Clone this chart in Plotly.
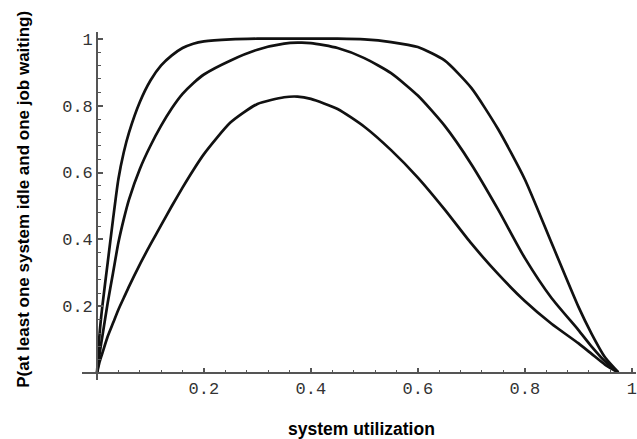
import plotly.graph_objects as go

# system utilization (x)
rho = [0.0, 0.005, 0.01, 0.02, 0.03, 0.04, 0.05, 0.06, 0.08, 0.10, 0.12, 0.14,
       0.16, 0.18, 0.20, 0.25, 0.30, 0.35, 0.375, 0.40, 0.45, 0.50, 0.55, 0.60,
       0.65, 0.70, 0.75, 0.80, 0.85, 0.90, 0.925, 0.95, 0.975]

# P(at least one system idle and one job waiting), three curves
p_top = [0.0, 0.12, 0.20, 0.33, 0.46, 0.58, 0.66, 0.72, 0.81, 0.875, 0.92, 0.95,
         0.972, 0.985, 0.992, 0.998, 1.0, 1.0, 1.0, 1.0, 1.0, 0.998, 0.99, 0.975,
         0.935, 0.853, 0.73, 0.58, 0.39, 0.20, 0.118, 0.048, 0.003]
p_mid = [0.0, 0.06, 0.11, 0.21, 0.30, 0.39, 0.46, 0.52, 0.61, 0.68, 0.74, 0.792,
         0.835, 0.867, 0.893, 0.935, 0.967, 0.985, 0.988, 0.987, 0.972, 0.942, 0.897, 0.83,
         0.74, 0.625, 0.49, 0.345, 0.225, 0.13, 0.08, 0.036, 0.003]
p_low = [0.0, 0.035, 0.06, 0.11, 0.15, 0.19, 0.225, 0.26, 0.325, 0.385, 0.443, 0.50,
         0.555, 0.607, 0.655, 0.75, 0.805, 0.825, 0.827, 0.82, 0.79, 0.737, 0.667, 0.585,
         0.49, 0.388, 0.297, 0.216, 0.148, 0.09, 0.058, 0.026, 0.002]

tick_vals = [0.2, 0.4, 0.6, 0.8, 1.0]
tick_text = ["0.2", "0.4", "0.6", "0.8", "1"]

fig = go.Figure()
for ys in (p_low, p_mid, p_top):
    fig.add_trace(go.Scatter(x=rho, y=ys, mode="lines",
                             line=dict(color="#111111", width=2.7, shape="spline", smoothing=0.6),
                             showlegend=False, hoverinfo="skip"))

xr = [-0.028, 1.008]
yr = [-0.02, 1.02]
axis_col = "#555555"
tick_font = dict(family="Liberation Mono, Courier New, monospace", size=17, color="#333333")

common = dict(showgrid=False, zeroline=False, showline=True, automargin=False,
              linecolor=axis_col, linewidth=1.5,
              tickmode="array", tickvals=tick_vals, ticktext=tick_text,
              ticks="inside", ticklen=5, tickwidth=1.5, tickcolor=axis_col,
              tickfont=tick_font, ticklabeloverflow="allow",
              minor=dict(tickmode="linear", tick0=0, dtick=0.04, ticks="inside",
                         ticklen=3, tickwidth=1.2, tickcolor=axis_col))

fig.update_layout(
    width=637, height=439,
    margin=dict(l=82, r=1, t=32, b=59),
    paper_bgcolor="white", plot_bgcolor="white",
    xaxis=dict(range=xr, anchor="free", position=(0 - yr[0]) / (yr[1] - yr[0]), **common),
    yaxis=dict(range=yr, anchor="free", position=(0 - xr[0]) / (xr[1] - xr[0]), **common),
    annotations=[
        dict(text="<b>system utilization</b>", xref="paper", yref="paper",
             x=0.505, y=-0.142, showarrow=False, xanchor="center", yanchor="middle",
             font=dict(family="Liberation Sans, Arial, sans-serif", size=17.5, color="black")),
        dict(text="<b>P(at least one system idle and one job waiting)</b>",
             xref="paper", yref="paper", x=-0.107, y=0.52, textangle=-90,
             showarrow=False, xanchor="center", yanchor="middle",
             font=dict(family="Liberation Sans, Arial, sans-serif", size=17, color="black")),
    ],
)

# remove the browser's default 8px body margin so the figure fills the window exactly
fig.write_html("out.html",
               config={"displayModeBar": False},
               post_script="document.body.style.margin='0';document.body.style.overflow='hidden';")
